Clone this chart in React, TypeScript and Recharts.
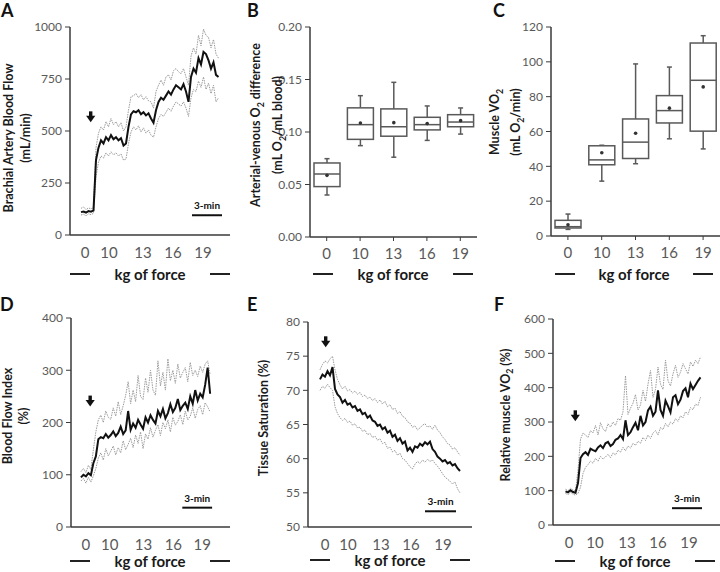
import React from 'react';
import { ComposedChart, Line, Bar, XAxis, YAxis, ReferenceLine, ReferenceDot } from 'recharts';

const stageLabels = ['0', '10', '13', '16', '19'];

// A - brachial artery blood flow (mL/min), time in min, mean with +/- SD traces
const flowStart = 1.1;
const flowStep = 0.25;
const flowMean = [110, 113, 108, 115, 112, 118, 360, 420, 455, 440, 470, 455, 480, 460, 470, 455, 465, 430, 440, 520, 580, 595, 590, 600, 580, 590, 575, 585, 560, 540, 600, 640, 660, 650, 670, 690, 675, 700, 720, 710, 700, 725, 690, 640, 760, 800, 780, 850, 820, 880, 870, 840, 800, 830, 770, 760];
const flowUpper = [128, 135, 122, 130, 126, 132, 420, 490, 520, 505, 545, 520, 560, 530, 545, 520, 540, 500, 520, 600, 665, 670, 680, 660, 675, 650, 665, 645, 640, 610, 690, 720, 745, 720, 760, 770, 745, 790, 800, 785, 775, 800, 760, 720, 860, 900, 870, 960, 910, 990, 960, 950, 900, 940, 870, 850];
const flowLower = [96, 100, 92, 102, 98, 104, 280, 350, 380, 370, 395, 380, 400, 385, 395, 380, 390, 360, 365, 440, 495, 520, 505, 525, 495, 515, 490, 505, 480, 470, 520, 560, 580, 570, 590, 610, 595, 620, 640, 630, 620, 640, 610, 570, 660, 700, 690, 740, 710, 760, 700, 730, 680, 720, 640, 660];
const flowTicks = [1.5, 3.9, 7.3, 10.3, 13.3];

// B - a-v O2 difference box plots
const avdMin = [0.040, 0.087, 0.076, 0.092, 0.098];
const avdQ1 = [0.048, 0.093, 0.096, 0.102, 0.105];
const avdMedian = [0.060, 0.107, 0.105, 0.107, 0.1095];
const avdQ3 = [0.0705, 0.123, 0.122, 0.114, 0.1165];
const avdMax = [0.0746, 0.1346, 0.1473, 0.1248, 0.1229];
const avdMean = [0.0587, 0.1086, 0.1089, 0.108, 0.1108];

// C - muscle VO2 box plots
const mvoMin = [3.8, 31.5, 41.5, 55.8, 50.0];
const mvoQ1 = [4.6, 40.9, 44.5, 64.9, 60.2];
const mvoMedian = [5.35, 43.7, 53.9, 72.0, 89.4];
const mvoQ3 = [9.0, 51.8, 67.2, 80.6, 110.8];
const mvoMax = [12.6, 52.1, 98.8, 97.0, 115.0];
const mvoMean = [6.5, 47.8, 59.0, 73.4, 85.6];

// D - blood flow index (%)
const bfiStart = 1.0;
const bfiStep = 0.25;
const bfiMean = [95, 100, 97, 103, 99, 122, 135, 168, 172, 170, 178, 171, 176, 183, 174, 180, 192, 178, 185, 222, 186, 198, 190, 205, 196, 188, 210, 200, 214, 205, 198, 222, 212, 226, 208, 218, 235, 220, 228, 245, 224, 232, 238, 226, 250, 236, 262, 242, 255, 248, 272, 305, 255];
const bfiUpper = [106, 112, 104, 118, 110, 148, 182, 205, 214, 200, 222, 210, 206, 228, 212, 240, 215, 232, 252, 278, 236, 262, 240, 290, 250, 244, 285, 258, 300, 262, 252, 318, 270, 296, 262, 322, 280, 300, 275, 312, 285, 296, 305, 278, 315, 290, 300, 288, 308, 296, 312, 318, 292];
const bfiLower = [88, 93, 84, 95, 86, 98, 112, 132, 142, 128, 150, 136, 145, 155, 138, 152, 142, 165, 148, 158, 170, 152, 176, 160, 182, 150, 178, 168, 190, 172, 185, 196, 175, 200, 188, 205, 182, 210, 195, 202, 215, 196, 222, 205, 212, 228, 208, 225, 232, 215, 238, 230, 220];
const bfiTicks = [1.5, 3.9, 7.3, 10.3, 13.2];

// E - tissue saturation (%)
const satStart = 1.2;
const satStep = 0.25;
const satMean = [71.6, 72.3, 72.0, 72.8, 72.2, 73.4, 70.2, 69.4, 69.0, 68.2, 68.6, 67.9, 68.1, 67.5, 67.7, 67.0, 67.2, 66.5, 66.7, 66.0, 66.3, 65.6, 65.4, 64.8, 65.0, 64.3, 64.6, 63.8, 64.1, 63.2, 63.5, 62.6, 63.0, 62.2, 62.5, 61.2, 61.6, 61.0, 61.8, 61.6, 62.2, 61.9, 62.4, 62.1, 62.5, 61.4, 61.0, 60.3, 60.0, 59.6, 59.8, 59.3, 59.5, 59.0, 59.2, 58.6, 58.2];
const satUpper = [73.0, 73.8, 74.3, 74.0, 74.6, 75.0, 73.0, 71.6, 70.8, 70.2, 70.6, 69.9, 70.1, 69.6, 69.9, 69.4, 69.7, 69.1, 69.3, 68.8, 69.0, 68.5, 68.8, 68.2, 68.6, 68.0, 68.4, 67.6, 67.9, 67.2, 67.4, 66.6, 66.9, 66.2, 66.0, 65.4, 65.2, 64.6, 64.8, 64.2, 64.5, 64.9, 65.1, 64.6, 64.8, 64.3, 64.9, 64.2, 63.8, 63.2, 62.8, 62.2, 62.0, 61.4, 61.6, 61.0, 60.5];
const satLower = [70.0, 70.6, 70.3, 70.9, 70.4, 70.0, 67.6, 66.6, 66.0, 65.6, 65.9, 65.3, 65.5, 64.9, 65.1, 64.5, 64.6, 64.0, 64.2, 63.5, 63.7, 63.1, 63.3, 62.7, 62.9, 62.2, 62.4, 61.5, 61.7, 61.0, 61.2, 60.5, 60.8, 60.0, 59.8, 59.3, 58.8, 58.5, 59.2, 59.6, 59.3, 59.8, 59.5, 59.9, 59.6, 59.8, 59.3, 58.9, 58.4, 57.8, 57.3, 57.0, 56.7, 56.3, 56.6, 55.6, 55.0];
const satTicks = [1.7, 4.0, 7.3, 10.3, 13.5];

// F - relative muscle VO2 (%)
const rvoStart = 1.25;
const rvoStep = 0.25;
const rvoMean = [98, 95, 101, 96, 94, 122, 195, 206, 212, 204, 222, 218, 215, 226, 232, 224, 238, 242, 230, 236, 248, 252, 262, 250, 305, 262, 270, 285, 298, 276, 318, 290, 300, 334, 345, 318, 330, 392, 335, 318, 362, 346, 328, 372, 378, 352, 365, 390, 398, 372, 412, 396, 408, 420, 430];
const rvoUpper = [104, 100, 107, 102, 99, 160, 250, 268, 262, 255, 275, 268, 290, 262, 298, 280, 272, 295, 285, 300, 290, 310, 305, 330, 435, 322, 340, 355, 380, 335, 350, 392, 360, 410, 450, 372, 395, 460, 410, 395, 480, 420, 405, 440, 465, 430, 445, 470, 455, 440, 475, 462, 480, 470, 490];
const rvoLower = [92, 88, 95, 90, 87, 92, 110, 150, 168, 176, 186, 180, 194, 186, 200, 192, 198, 206, 196, 210, 204, 218, 212, 226, 216, 230, 224, 238, 232, 244, 238, 255, 246, 262, 252, 268, 275, 262, 284, 278, 296, 286, 300, 294, 310, 302, 318, 312, 330, 322, 342, 336, 352, 348, 372];
const rvoTicks = [1.6, 4.2, 7.4, 10.5, 13.6];

const axisColor = '#3a3a3a';
const tickColor = '#595959';
const bandColor = '#9b9b9b';

const toRows = (t0: number, dt: number, mean: number[], upper: number[], lower: number[]) =>
  mean.map((m, i) => ({ t: +(t0 + i * dt).toFixed(2), mean: m, upper: upper[i], lower: lower[i] }));

const toBoxes = (min: number[], q1: number[], med: number[], q3: number[], max: number[], mean: number[]) =>
  stageLabels.map((cat, i) => ({
    cat, min: min[i], q1: q1[i], median: med[i], q3: q3[i], max: max[i], mean: mean[i],
    range: [min[i], max[i]],
  }));

const ArrowShape = (props: any) => {
  const { cx, cy } = props;
  return (
    <g fill="#111">
      <rect x={cx - 1.7} y={cy - 5.5} width={3.4} height={5} />
      <polygon points={`${cx - 4.6},${cy - 1} ${cx + 4.6},${cy - 1} ${cx},${cy + 5.5}`} />
    </g>
  );
};

const ScaleLabel = (props: any) => (
  <text x={props.cx} y={props.cy - 6} textAnchor="middle" fontSize={10} fontWeight={700} fill="#111">
    3-min
  </text>
);

const BoxShape = (props: any) => {
  const { x, y, width, height, payload } = props;
  const top = Math.min(y, y + height);
  const bot = Math.max(y, y + height);
  const span = payload.max - payload.min;
  const py = (v: number) => bot - ((v - payload.min) / span) * (bot - top);
  const cx = x + width / 2;
  const c = '#595959';
  return (
    <g stroke={c} strokeWidth={1.5} fill="none">
      <line x1={cx} x2={cx} y1={py(payload.max)} y2={py(payload.q3)} />
      <line x1={cx} x2={cx} y1={py(payload.q1)} y2={py(payload.min)} />
      <line x1={cx - 2.5} x2={cx + 2.5} y1={py(payload.max)} y2={py(payload.max)} />
      <line x1={cx - 2.5} x2={cx + 2.5} y1={py(payload.min)} y2={py(payload.min)} />
      <rect x={x} y={py(payload.q3)} width={width} height={py(payload.q1) - py(payload.q3)} fill="#fff" />
      <line x1={x} x2={x + width} y1={py(payload.median)} y2={py(payload.median)} />
      <circle cx={cx} cy={py(payload.mean)} r={1.8} fill="#333" stroke="none" />
    </g>
  );
};

const Sub = ({ children }: { children: React.ReactNode }) => (
  <sub style={{ fontSize: '0.7em', verticalAlign: 'sub', lineHeight: 0 }}>{children}</sub>
);

const YTitle = ({ x, y, lh = 17, children }: any) => (
  <div style={{
    position: 'absolute', left: x, top: y, transform: 'translate(-50%,-50%) rotate(-90deg)',
    whiteSpace: 'nowrap', textAlign: 'center', fontWeight: 700, fontSize: 12.5, lineHeight: `${lh}px`, color: '#1a1a1a',
  }}>
    {children}
  </div>
);

const Footer = ({ left, right, y }: { left: number; right: number; y: number }) => (
  <div style={{
    position: 'absolute', left, top: y - 7, width: right - left, height: 14,
    display: 'flex', alignItems: 'center', justifyContent: 'space-between',
  }}>
    <div style={{ width: 20, height: 1.5, background: '#222' }} />
    <span style={{ fontWeight: 700, fontSize: 15, lineHeight: '14px', color: '#1a1a1a' }}>kg of force</span>
    <div style={{ width: 20, height: 1.5, background: '#222' }} />
  </div>
);

const Letter = ({ x, y, children }: any) => (
  <div style={{ position: 'absolute', left: x, top: y, fontWeight: 700, fontSize: 18, lineHeight: '18px', color: '#111' }}>
    {children}
  </div>
);

const TimePanel = ({ left, top, height, margin, yWidth, xMax, yDomain, yTicks, rows, xTicks, arrow, bar }: any) => (
  <div style={{ position: 'absolute', left, top }}>
    <ComposedChart width={240} height={height} data={rows} margin={margin}>
      <XAxis
        type="number" dataKey="t" domain={[0, xMax]} ticks={xTicks} interval={0}
        tickFormatter={(v: number, i: number) => stageLabels[i]}
        tickLine={false} tickSize={4} tickMargin={8} height={30}
        axisLine={{ stroke: axisColor, strokeWidth: 1.5 }}
        tick={{ fill: tickColor, fontSize: 15 }}
      />
      <YAxis
        type="number" domain={yDomain} ticks={yTicks} interval={0} width={yWidth}
        tickSize={5} tickMargin={3}
        axisLine={{ stroke: axisColor, strokeWidth: 1.5 }}
        tickLine={{ stroke: axisColor }}
        tick={{ fill: tickColor, fontSize: 12 }}
      />
      <Line type="linear" dataKey="upper" stroke={bandColor} strokeWidth={1} strokeDasharray="1.5 1" dot={false} isAnimationActive={false} />
      <Line type="linear" dataKey="lower" stroke={bandColor} strokeWidth={1} strokeDasharray="1.5 1" dot={false} isAnimationActive={false} />
      <Line type="linear" dataKey="mean" stroke="#111" strokeWidth={2} dot={false} isAnimationActive={false} />
      <ReferenceDot x={arrow[0]} y={arrow[1]} r={1} shape={ArrowShape} />
      <ReferenceLine segment={[{ x: bar[0], y: bar[2] }, { x: bar[1], y: bar[2] }]} stroke="#111" strokeWidth={2} />
      <ReferenceDot x={(bar[0] + bar[1]) / 2} y={bar[2]} r={1} shape={ScaleLabel} />
    </ComposedChart>
  </div>
);

const BoxPanel = ({ left, rows, margin, yWidth, yDomain, yTicks, fmt }: any) => (
  <div style={{ position: 'absolute', left, top: 0 }}>
    <ComposedChart width={240} height={290} data={rows} margin={margin}>
      <XAxis
        dataKey="cat" type="category" tickSize={4} tickMargin={7} height={30}
        axisLine={{ stroke: axisColor, strokeWidth: 1.5 }}
        tickLine={{ stroke: axisColor }}
        tick={{ fill: tickColor, fontSize: 15 }}
      />
      <YAxis
        type="number" domain={yDomain} ticks={yTicks} interval={0} width={yWidth}
        tickFormatter={fmt} tickSize={5} tickMargin={3}
        axisLine={{ stroke: axisColor, strokeWidth: 1.5 }}
        tickLine={{ stroke: axisColor }}
        tick={{ fill: tickColor, fontSize: 12 }}
      />
      <Bar dataKey="range" barSize={26} shape={BoxShape} isAnimationActive={false} />
    </ComposedChart>
  </div>
);

export default function App() {
  const flowRows = toRows(flowStart, flowStep, flowMean, flowUpper, flowLower);
  const bfiRows = toRows(bfiStart, bfiStep, bfiMean, bfiUpper, bfiLower);
  const satRows = toRows(satStart, satStep, satMean, satUpper, satLower);
  const rvoRows = toRows(rvoStart, rvoStep, rvoMean, rvoUpper, rvoLower);
  const avdRows = toBoxes(avdMin, avdQ1, avdMedian, avdQ3, avdMax, avdMean);
  const mvoRows = toBoxes(mvoMin, mvoQ1, mvoMedian, mvoQ3, mvoMax, mvoMean);

  return (
    <div style={{
      position: 'absolute', left: 0, top: 0, width: 720, height: 572, background: '#fff',
      overflow: 'hidden', fontFamily: 'Lato, "Open Sans", sans-serif',
    }}>
      <TimePanel
        left={0} top={0} height={290} margin={{ top: 27, right: 10, left: 0, bottom: 25 }}
        yWidth={70} xMax={16} yDomain={[0, 1000]} yTicks={[0, 250, 500, 750, 1000]}
        rows={flowRows} xTicks={flowTicks} arrow={[2.07, 568]} bar={[12.2, 15.2, 95]}
      />
      <BoxPanel
        left={240} rows={avdRows} margin={{ top: 27, right: 3, left: 0, bottom: 23 }}
        yWidth={70} yDomain={[0, 0.2]} yTicks={[0, 0.05, 0.1, 0.15, 0.2]} fmt={(v: number) => v.toFixed(2)}
      />
      <BoxPanel
        left={480} rows={mvoRows} margin={{ top: 27, right: 0, left: 0, bottom: 24 }}
        yWidth={71} yDomain={[0, 120]} yTicks={[0, 20, 40, 60, 80, 100, 120]} fmt={(v: number) => `${v}`}
      />
      <TimePanel
        left={0} top={290} height={282} margin={{ top: 28, right: 10, left: 0, bottom: 15 }}
        yWidth={71} xMax={16} yDomain={[0, 400]} yTicks={[0, 100, 200, 300, 400]}
        rows={bfiRows} xTicks={bfiTicks} arrow={[1.93, 241]} bar={[11.2, 14.2, 37]}
      />
      <TimePanel
        left={240} top={290} height={282} margin={{ top: 32, right: 8, left: 0, bottom: 15 }}
        yWidth={68} xMax={16.4} yDomain={[50, 80]} yTicks={[50, 55, 60, 65, 70, 75, 80]}
        rows={satRows} xTicks={satTicks} arrow={[1.77, 77.1]} bar={[11.7, 14.8, 52.3]}
      />
      <TimePanel
        left={480} top={290} height={282} margin={{ top: 29, right: 0, left: 0, bottom: 17 }}
        yWidth={73} xMax={16.7} yDomain={[0, 600]} yTicks={[0, 100, 200, 300, 400, 500, 600]}
        rows={rvoRows} xTicks={rvoTicks} arrow={[2.23, 318]} bar={[11.9, 14.9, 49]}
      />

      <YTitle x={16.5} y={138}>
        <div>Brachial Artery Blood Flow</div>
        <div>(mL/min)</div>
      </YTitle>
      <YTitle x={267} y={125} lh={22}>
        <div>Arterial-venous O<Sub>2</Sub> difference</div>
        <div>(mL O<Sub>2</Sub>/mL blood)</div>
      </YTitle>
      <YTitle x={504.5} y={122} lh={21}>
        <div>Muscle VO<Sub>2</Sub></div>
        <div>(mL O<Sub>2</Sub>/min)</div>
      </YTitle>
      <YTitle x={16} y={416} lh={16}>
        <div>Blood Flow Index</div>
        <div>(%)</div>
      </YTitle>
      <YTitle x={263} y={418}>
        <div>Tissue Saturation (%)</div>
      </YTitle>
      <YTitle x={505} y={415}>
        <div>Relative muscle VO<Sub>2</Sub> (%)</div>
      </YTitle>

      <Footer left={70} right={230} y={274} />
      <Footer left={313} right={473} y={274} />
      <Footer left={555} right={713} y={274} />
      <Footer left={70} right={230} y={561} />
      <Footer left={310} right={470} y={560} />
      <Footer left={555} right={715} y={561} />

      <Letter x={1} y={1}>A</Letter>
      <Letter x={247} y={1}>B</Letter>
      <Letter x={493} y={1}>C</Letter>
      <Letter x={0} y={295}>D</Letter>
      <Letter x={247} y={295}>E</Letter>
      <Letter x={494} y={295}>F</Letter>
    </div>
  );
}
